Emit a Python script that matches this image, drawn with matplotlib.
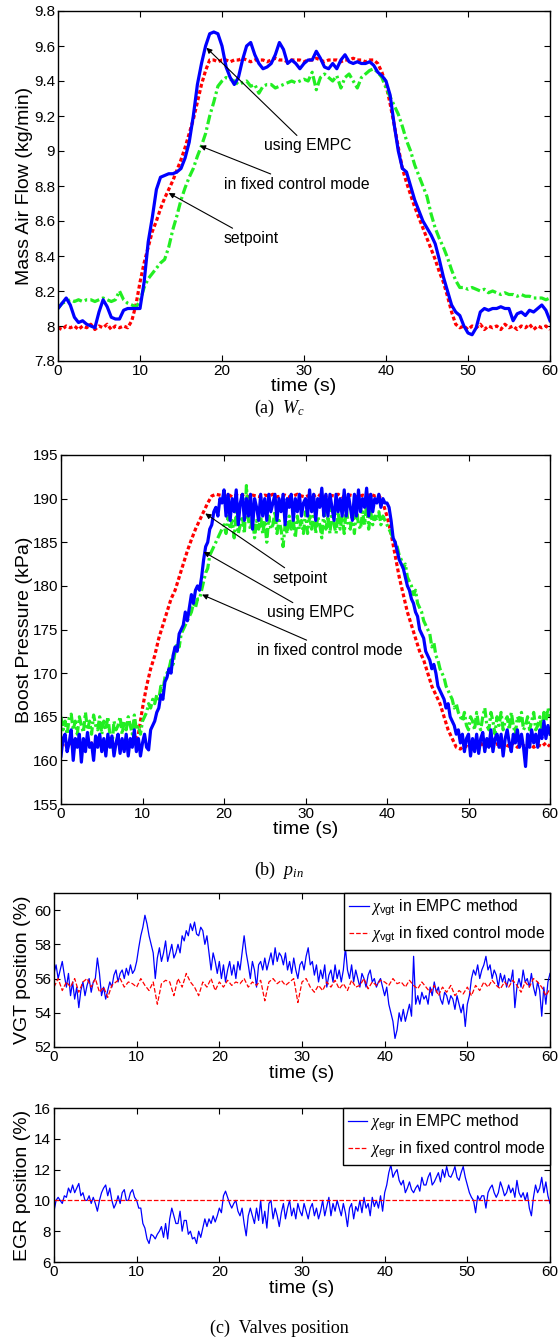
import numpy as np
import matplotlib
matplotlib.use("Agg")
import matplotlib.pyplot as plt

plt.rcParams['font.family'] = ['Liberation Sans', 'DejaVu Sans']
plt.rcParams['mathtext.fontset'] = 'custom'
plt.rcParams['mathtext.rm'] = 'Liberation Sans'
plt.rcParams['mathtext.sf'] = 'Liberation Sans'
plt.rcParams['mathtext.it'] = 'Liberation Serif:italic'
plt.rcParams['mathtext.bf'] = 'Liberation Sans:bold'

# ---------------- data (uniform samples over 0..60 s) ----------------
# (a) mass air flow, 0.5 s samples
wc_empc = [
    8.10, 8.13, 8.16, 8.12, 8.05, 8.02, 8.03, 8.01, 8.00, 7.99, 8.08, 8.15, 8.11, 8.05, 8.04, 8.04, 8.09, 8.10, 8.10, 8.10,
    8.10, 8.25, 8.48, 8.62, 8.78, 8.85, 8.86, 8.87, 8.87, 8.88, 8.90, 8.96, 9.05, 9.20, 9.38, 9.50, 9.60, 9.67, 9.68, 9.67,
    9.60, 9.48, 9.42, 9.38, 9.42, 9.52, 9.60, 9.62, 9.55, 9.50, 9.47, 9.48, 9.50, 9.55, 9.62, 9.58, 9.50, 9.52, 9.50, 9.47,
    9.50, 9.52, 9.52, 9.57, 9.53, 9.48, 9.47, 9.50, 9.47, 9.52, 9.55, 9.51, 9.50, 9.51, 9.50, 9.50, 9.51, 9.49, 9.45, 9.43,
    9.40, 9.32, 9.15, 9.00, 8.90, 8.88, 8.80, 8.72, 8.66, 8.60, 8.56, 8.52, 8.47, 8.38, 8.28, 8.20, 8.12, 8.08, 8.06, 8.00,
    7.96, 7.95, 7.99, 8.08, 8.10, 8.09, 8.10, 8.10, 8.11, 8.10, 8.10, 8.03, 8.07, 8.08, 8.06, 8.09, 8.08, 8.10, 8.12, 8.09, 8.03]
wc_fixed = [
    8.10, 8.13, 8.14, 8.15, 8.14, 8.15, 8.14, 8.15, 8.15, 8.14, 8.15, 8.16, 8.15, 8.14, 8.15, 8.20, 8.15, 8.13, 8.12, 8.11,
    8.14, 8.22, 8.27, 8.30, 8.33, 8.36, 8.38, 8.45, 8.55, 8.63, 8.72, 8.79, 8.85, 8.90, 8.97, 9.03, 9.10, 9.20, 9.28, 9.37,
    9.40, 9.42, 9.41, 9.40, 9.38, 9.39, 9.40, 9.37, 9.38, 9.33, 9.37, 9.38, 9.38, 9.36, 9.37, 9.38, 9.39, 9.40, 9.39, 9.40,
    9.41, 9.40, 9.45, 9.35, 9.42, 9.44, 9.42, 9.40, 9.43, 9.36, 9.42, 9.44, 9.40, 9.36, 9.42, 9.44, 9.46, 9.47, 9.45, 9.42,
    9.36, 9.31, 9.26, 9.21, 9.14, 9.06, 9.00, 8.92, 8.86, 8.80, 8.74, 8.64, 8.56, 8.50, 8.45, 8.39, 8.32, 8.26, 8.22, 8.22,
    8.21, 8.22, 8.21, 8.20, 8.21, 8.19, 8.20, 8.19, 8.18, 8.19, 8.18, 8.18, 8.17, 8.18, 8.17, 8.17, 8.16, 8.16, 8.16, 8.15, 8.16]
wc_set = [
    7.99, 7.98, 8.00, 7.99, 8.00, 7.98, 8.00, 7.99, 8.01, 7.98, 8.00, 7.99, 8.01, 7.98, 8.00, 7.99, 8.00, 7.99, 8.03, 8.12,
    8.25, 8.36, 8.45, 8.54, 8.60, 8.67, 8.73, 8.78, 8.83, 8.89, 8.95, 9.02, 9.10, 9.18, 9.28, 9.38, 9.46, 9.52, 9.52, 9.51,
    9.52, 9.52, 9.51, 9.52, 9.52, 9.53, 9.52, 9.51, 9.52, 9.52, 9.52, 9.51, 9.52, 9.53, 9.52, 9.52, 9.51, 9.52, 9.52, 9.52,
    9.51, 9.52, 9.52, 9.53, 9.52, 9.51, 9.52, 9.52, 9.52, 9.51, 9.52, 9.52, 9.53, 9.52, 9.52, 9.51, 9.52, 9.52, 9.50, 9.45,
    9.38, 9.27, 9.15, 9.02, 8.90, 8.82, 8.75, 8.68, 8.62, 8.56, 8.50, 8.44, 8.38, 8.31, 8.25, 8.17, 8.08, 8.01, 7.99, 8.00,
    7.98, 8.00, 7.99, 8.01, 7.98, 8.00, 7.99, 8.00, 7.98, 8.01, 7.99, 8.00, 7.98, 8.00, 7.99, 8.01, 7.98, 8.00, 7.99, 8.00, 7.98]

# (b) boost pressure; EMPC and fixed at 0.25 s, setpoint at 0.5 s
pin_empc = [
    160.5, 162.5, 163.0, 161.0, 162.0, 163.5, 160.0, 162.5, 161.5, 163.0, 159.8, 162.5, 161.0, 163.2, 161.5, 162.0, 160.0, 162.8, 161.5, 163.0,
    161.0, 162.5, 160.5, 163.0, 161.5, 162.8, 160.5, 162.0, 163.0, 160.8, 162.5, 161.0, 163.0, 160.5, 162.5, 161.5, 163.5, 161.0, 162.5, 160.5,
    162.0, 163.0, 161.5, 161.2, 163.5, 164.0, 164.5, 165.5, 166.0, 167.5, 167.0, 169.0, 169.5, 170.5, 170.0, 172.0, 173.0, 172.5, 174.5, 175.0,
    175.5, 177.0, 176.0, 177.5, 179.0, 178.0, 179.5, 180.0, 179.5, 181.0, 183.0, 184.5, 185.0, 186.5, 187.0, 188.5, 189.0, 188.0, 190.0, 189.5,
    191.0, 188.0, 190.5, 187.5, 190.0, 188.5, 191.0, 187.0, 189.5, 190.5, 187.5, 190.0, 188.0, 190.5, 186.5, 190.0, 189.0, 187.5, 190.5, 188.0,
    190.0, 187.5, 190.5, 188.5, 189.5, 190.5, 187.5, 190.0, 188.5, 190.5, 187.0, 190.0, 189.0, 190.5, 187.5, 190.0, 188.5, 190.5, 188.0, 189.5,
    190.0, 188.0, 191.0, 188.5, 190.5, 187.5, 190.0, 189.0, 191.2, 188.0, 190.5, 188.0, 190.5, 189.0, 187.5, 190.5, 188.5, 190.0, 188.0, 191.0,
    188.0, 190.5, 189.0, 187.5, 190.5, 188.0, 191.0, 188.5, 190.0, 189.0, 191.2, 188.0, 190.5, 188.5, 190.0, 189.5, 190.5, 189.0, 190.0, 189.5,
    189.5, 189.0, 187.5, 185.5, 185.0, 184.0, 183.0, 182.5, 182.0, 181.0, 180.0, 179.5, 178.5, 178.0, 177.0, 176.5, 175.0, 174.5, 174.0, 172.5,
    172.0, 171.5, 170.5, 171.0, 170.0, 168.5, 168.0, 167.5, 167.0, 166.0, 166.5, 165.0, 164.5, 164.0, 163.0, 163.5, 162.0, 163.0, 161.0, 162.5,
    163.0, 160.5, 162.5, 161.0, 163.0, 160.8, 162.5, 163.2, 161.0, 162.5, 161.5, 163.5, 161.0, 162.5, 163.0, 161.5, 163.0, 160.5, 162.5, 163.5,
    162.0, 161.0, 163.0, 162.0, 163.5, 161.5, 163.0, 161.5, 159.3, 163.0, 161.5, 163.5, 162.0, 163.0, 161.5, 163.5, 162.5, 164.5, 162.5, 164.0, 163.0]
pin_fixed = [
    165.0, 163.5, 164.5, 163.0, 164.8, 165.3, 163.5, 164.5, 163.0, 165.0, 164.0, 163.2, 165.5, 163.5, 164.5, 163.0, 165.2, 164.0, 163.5, 165.0,
    163.0, 164.5, 163.5, 165.0, 163.0, 161.5, 164.5, 163.5, 164.0, 165.0, 163.0, 164.5, 163.5, 165.0, 164.0, 163.0, 165.2, 163.5, 164.0, 163.0,
    164.5, 165.0, 165.5, 166.5, 166.0, 167.0, 166.5, 167.5, 167.0, 168.5, 168.0, 169.5, 170.0, 170.5, 171.5, 171.0, 172.5, 173.5, 173.0, 174.5,
    175.0, 175.5, 176.0, 176.5, 177.0, 178.0, 177.5, 178.5, 178.5, 179.5, 180.5, 181.5, 182.0, 183.5, 184.0, 184.5, 185.0, 185.5, 186.0, 186.5,
    187.0, 186.0, 188.0, 186.5, 187.5, 185.5, 188.5, 186.0, 187.0, 188.0, 186.0, 191.5, 187.5, 186.5, 188.0, 185.5, 187.5, 186.5, 188.0, 186.0,
    187.5, 185.0, 188.0, 186.5, 187.0, 188.5, 186.0, 187.5, 186.5, 184.5, 187.0, 186.0, 188.0, 186.5, 187.5, 185.5, 188.0, 186.5, 187.5, 186.0,
    188.5, 186.0, 188.0, 186.5, 189.0, 186.0, 188.0, 187.0, 185.5, 188.5, 186.5, 188.0, 186.0, 189.0, 187.0, 186.0, 188.5, 186.5, 188.0, 186.0,
    189.0, 187.0, 186.5, 188.5, 186.0, 189.0, 187.0, 186.5, 188.5, 187.0, 189.5, 186.5, 188.5, 187.0, 188.0, 187.5, 188.5, 187.0, 188.0, 187.5,
    187.0, 186.5, 186.0, 185.5, 185.0, 184.5, 183.5, 183.0, 182.0, 182.5, 181.0, 180.5, 180.0, 179.0, 179.5, 178.0, 177.5, 177.0, 176.0, 175.5,
    175.0, 174.5, 173.0, 173.5, 172.0, 171.5, 170.5, 170.0, 169.5, 168.5, 168.0, 167.5, 167.0, 166.0, 166.5, 165.5, 165.0, 164.5, 165.5, 164.0,
    163.5, 165.0, 164.5, 163.5, 165.5, 164.0, 163.5, 165.0, 166.0, 164.0, 163.5, 165.5, 164.5, 163.0, 165.0, 164.0, 165.5, 163.5, 164.5, 165.0,
    163.5, 165.5, 164.0, 163.0, 165.0, 164.5, 165.5, 163.5, 164.0, 165.0, 163.5, 164.5, 165.5, 163.5, 164.0, 165.0, 163.5, 165.5, 164.5, 166.0, 165.0]
pin_set = [
    162.0, 161.5, 162.0, 161.8, 162.2, 161.6, 162.0, 161.8, 162.1, 161.7, 162.0, 161.8, 162.2, 161.7, 162.0, 161.8, 162.1, 161.8, 162.0, 163.0,
    166.0, 168.5, 170.5, 172.0, 174.0, 175.5, 177.0, 178.5, 179.5, 181.0, 182.5, 184.0, 185.3, 186.5, 187.5, 188.5, 189.5, 190.3, 190.5, 190.4,
    190.3, 190.5, 190.2, 190.4, 190.3, 190.5, 190.2, 190.4, 190.3, 190.2, 190.4, 190.3, 190.5, 190.2, 190.3, 190.4, 190.2, 190.3, 190.5, 190.3,
    190.2, 190.4, 190.3, 190.5, 190.2, 190.3, 190.4, 190.3, 190.5, 190.2, 190.3, 190.4, 190.3, 190.2, 190.4, 190.3, 190.5, 190.3, 190.4, 189.5,
    188.0, 186.0, 183.5, 181.0, 179.0, 177.0, 175.5, 174.0, 172.5, 171.5, 170.0, 168.5, 167.5, 166.5, 165.0, 163.5, 162.5, 161.5, 161.3, 161.7,
    161.5, 161.8, 161.6, 162.0, 161.5, 161.8, 161.6, 161.9, 161.5, 161.8, 161.6, 162.0, 161.5, 161.8, 161.6, 161.9, 161.5, 161.8, 161.6, 162.0, 161.6]

# (c) valve positions; EMPC at 0.25 s, fixed VGT at 0.5 s
vgt_empc = [
    56.3, 56.8, 56.0, 56.5, 57.0, 56.2, 55.5, 56.3, 55.0, 55.8, 54.8, 55.5, 54.3, 55.3, 55.8, 55.0, 55.6, 56.0, 55.2, 55.8,
    56.0, 57.2, 56.3, 55.0, 55.5, 54.8, 55.3, 55.8, 55.5, 56.2, 56.5, 55.8, 56.3, 56.5, 56.0, 56.6, 56.2, 56.8, 56.3, 56.5,
    57.0, 57.8, 58.5, 59.0, 59.7, 59.2, 58.5, 58.0, 57.5, 56.0, 57.2, 57.8, 57.0, 57.5, 58.2, 57.0, 57.5, 58.0, 57.2, 57.5,
    58.0, 57.5, 58.5, 58.2, 58.8, 58.5, 59.2, 58.8, 59.3, 58.6, 58.5, 59.0, 58.8, 58.0, 58.5, 57.5, 56.5, 57.5, 57.0, 56.3,
    57.0, 56.0, 56.8, 55.8, 56.5, 57.0, 56.2, 56.8, 56.0, 57.0, 56.5, 57.5, 58.5, 57.5, 56.8, 56.0, 57.0, 56.5, 55.5, 56.8,
    57.0, 56.5, 57.2, 56.5, 57.0, 57.5, 56.8, 57.8, 57.0, 57.5, 57.3, 56.8, 57.5, 56.5, 57.0, 56.3, 57.2, 56.5, 56.0, 56.8,
    57.0, 56.5, 57.3, 57.8, 56.8, 57.0, 56.2, 56.8, 55.8, 56.5, 56.0, 56.8, 55.5, 56.2, 56.5, 55.8, 56.8, 56.0, 56.5, 55.8,
    56.5, 57.8, 56.5, 56.0, 56.8, 55.8, 56.5, 56.0, 55.5, 56.3, 56.0, 55.5, 56.2, 56.5, 55.8, 56.0, 55.5, 55.8, 56.0, 55.5,
    55.0, 55.5, 54.5, 54.0, 53.5, 52.5, 53.0, 54.0, 53.5, 54.2, 53.5, 54.0, 54.5, 53.8, 57.3, 54.5, 55.0, 54.5, 55.2, 54.8,
    55.0, 54.5, 55.5, 55.0, 55.8, 55.2, 55.5, 54.8, 54.5, 55.2, 55.0, 54.5, 55.0, 54.8, 54.2, 55.0, 54.5, 54.0, 54.5, 53.2,
    54.5, 55.0, 56.0, 56.5, 56.2, 56.8, 56.0, 56.5, 56.8, 57.3, 56.5, 56.8, 56.0, 56.5, 56.2, 55.5, 56.3, 55.8, 56.2, 55.5,
    56.0, 55.8, 56.5, 54.3, 55.5, 56.0, 55.5, 56.5, 55.8, 56.0, 55.5, 56.3, 55.5, 55.0, 55.8, 55.3, 53.8, 55.5, 54.5, 55.8, 56.3]
vgt_fixed = [
    55.5, 56.0, 55.3, 55.8, 55.5, 56.0, 55.2, 55.8, 56.0, 55.5, 56.0, 55.2, 55.5, 54.9, 55.6, 55.8, 56.0, 55.5, 55.8, 55.7,
    55.5, 56.0, 55.6, 55.3, 55.8, 54.5, 55.7, 55.9, 55.8, 55.0, 56.0, 55.5, 56.3, 55.8, 55.5, 55.0, 55.8, 55.5, 56.0, 55.3,
    55.8, 55.5, 55.9, 55.6, 55.8, 55.7, 56.0, 55.5, 55.8, 55.6, 55.9, 54.7, 55.8, 56.0, 55.7, 55.9, 55.6, 55.8, 56.0, 54.6,
    55.8, 56.0, 55.5, 55.2, 55.6, 55.3, 55.8, 55.5, 55.9, 55.4, 55.7, 55.3, 55.9, 55.5, 55.6, 56.0, 55.4, 55.8, 55.6, 55.9,
    55.8, 55.6, 56.0, 55.7, 55.8, 55.5, 55.9, 55.6, 55.4, 55.8, 55.5, 55.2, 55.6, 55.0, 55.5, 55.2, 55.6, 55.0, 55.3, 55.1,
    55.5, 55.0, 55.6, 55.3, 55.8, 55.5, 55.9, 55.6, 55.4, 55.8, 55.5, 55.9, 55.6, 55.2, 55.8, 55.5, 56.0, 55.8, 55.5, 55.0, 55.4]

egr_empc = [
    9.3, 10.0, 10.2, 10.0, 9.8, 10.3, 10.2, 10.8, 10.5, 11.0, 10.5, 10.8, 11.1, 10.3, 10.5, 10.0, 10.0, 10.3, 9.8, 10.2,
    9.8, 9.3, 10.0, 10.5, 10.8, 11.0, 10.3, 10.8, 10.0, 9.5, 9.8, 10.3, 9.8, 10.5, 10.7, 10.0, 10.0, 10.5, 10.7, 10.2,
    10.0, 9.5, 9.5, 8.5, 8.2, 7.5, 7.2, 7.8, 7.7, 7.5, 7.8, 8.0, 8.3, 7.6, 8.5, 7.5, 8.8, 9.5, 9.0, 8.5,
    8.5, 9.3, 8.0, 8.7, 8.7, 7.8, 8.0, 7.5, 7.6, 7.2, 8.0, 7.6, 8.2, 8.8, 8.3, 8.8, 8.5, 9.0, 8.6, 9.0,
    9.5, 9.2, 10.3, 10.6, 10.2, 9.8, 9.5, 9.8, 10.0, 9.3, 9.0, 9.5, 8.5, 7.7, 9.0, 9.5, 9.0, 8.5, 9.5, 8.7,
    10.0, 8.5, 9.3, 8.2, 9.8, 10.0, 8.8, 9.5, 9.0, 8.3, 9.2, 9.8, 8.8, 9.5, 10.0, 9.0, 9.5, 8.8, 9.8, 9.3,
    9.0, 9.8, 9.3, 8.8, 9.5, 9.8, 9.0, 9.5, 8.8, 9.3, 10.0, 9.0, 9.6, 10.2, 9.0, 9.8, 9.3, 10.0, 9.5, 9.0,
    9.8, 9.2, 8.3, 9.5, 9.8, 8.8, 9.6, 9.3, 10.0, 9.2, 10.2, 9.5, 9.8, 9.0, 10.2, 9.6, 10.0, 9.5, 10.3, 9.3,
    10.5, 11.0, 11.8, 12.3, 11.5, 11.8, 12.0, 11.3, 11.0, 11.3, 10.5, 10.8, 11.2, 10.7, 10.5, 10.8, 11.0, 10.6, 11.5, 11.0,
    11.0, 11.5, 11.8, 11.0, 11.2, 11.5, 11.8, 11.2, 12.0, 11.5, 12.2, 11.6, 11.5, 11.8, 12.2, 11.5, 11.3, 11.8, 12.2, 11.5,
    11.0, 10.5, 10.2, 10.0, 9.2, 10.3, 10.0, 10.3, 10.3, 9.5, 10.5, 10.8, 11.0, 10.5, 10.2, 10.5, 11.2, 10.8, 10.3, 10.5,
    11.0, 10.5, 10.8, 10.2, 11.3, 10.5, 10.2, 10.5, 10.0, 10.5, 9.5, 9.0, 10.2, 11.0, 10.5, 10.8, 11.5, 10.5, 11.2, 10.3, 9.8]
egr_fixed = [10.0, 10.0]

xticks = [0, 10, 20, 30, 40, 50, 60]
wc_yticks = [7.8, 8.0, 8.2, 8.4, 8.6, 8.8, 9.0, 9.2, 9.4, 9.6, 9.8]
pin_yticks = [155, 160, 165, 170, 175, 180, 185, 190, 195]
vgt_yticks = [52, 54, 56, 58, 60]
egr_yticks = [6, 8, 10, 12, 14, 16]


def tgrid(vals):
    return np.linspace(0, 60, len(vals))


W, H = 559, 1340
fig = plt.figure(figsize=(W / 100, H / 100), dpi=100)

TICK_FS = 11
LABEL_FS = 14
NOTE_FS = 11.3


def make_ax(left, top, right, bottom):
    ax = fig.add_axes([left / W, 1 - bottom / H, (right - left) / W, (bottom - top) / H])
    for s in ax.spines.values():
        s.set_linewidth(1.0)
        s.set_color('black')
    ax.tick_params(direction='in', top=True, right=True, length=4, width=0.8,
                   labelsize=TICK_FS, pad=2)
    ax.set_xlim(0, 60)
    ax.set_xticks(xticks)
    ax.set_xticklabels([str(v) for v in xticks])
    return ax


def fmt(v):
    return '%g' % v


GREEN = '#22ee22'
arw = dict(arrowstyle='-|>', color='black', lw=0.8, mutation_scale=8, shrinkA=0, shrinkB=0)

# ---------- (a) ----------
ax = make_ax(58, 11, 550, 361)
ax.plot(tgrid(wc_set), wc_set, color='red', lw=2.3, dashes=(1.2, 0.8))
ax.plot(tgrid(wc_fixed), wc_fixed, color=GREEN, lw=2.3, dashes=(3, 1, 0.8, 1))
ax.plot(tgrid(wc_empc), wc_empc, color='blue', lw=2.3)
ax.set_ylim(7.8, 9.8)
ax.set_yticks(wc_yticks)
ax.set_yticklabels([fmt(v) for v in wc_yticks])
ax.set_ylabel('Mass Air Flow (kg/min)', fontsize=LABEL_FS, labelpad=1)
ax.set_xlabel('time (s)', fontsize=LABEL_FS, labelpad=0.5)
ax.annotate('using EMPC', xy=(18.1, 9.59), xytext=(25.1, 9.03), fontsize=NOTE_FS,
            va='center', ha='left', arrowprops=arw)
ax.annotate('in fixed control mode', xy=(17.3, 9.03), xytext=(20.2, 8.81), fontsize=NOTE_FS,
            va='center', ha='left', arrowprops=arw)
ax.annotate('setpoint', xy=(13.5, 8.76), xytext=(20.2, 8.50), fontsize=NOTE_FS,
            va='center', ha='left', arrowprops=arw)
fig.text(0.5, 1 - 408 / H, r'(a)  $W_c$', ha='center', va='center',
         fontsize=13, family='Liberation Serif')

# ---------- (b) ----------
ax = make_ax(61, 455, 550, 804)
ax.plot(tgrid(pin_set), pin_set, color='red', lw=2.3, dashes=(1.2, 0.8))
ax.plot(tgrid(pin_fixed), pin_fixed, color=GREEN, lw=2.3, dashes=(3, 1, 0.8, 1))
ax.plot(tgrid(pin_empc), pin_empc, color='blue', lw=2.3)
ax.set_ylim(155, 195)
ax.set_yticks(pin_yticks)
ax.set_yticklabels([fmt(v) for v in pin_yticks])
ax.set_ylabel('Boost Pressure (kPa)', fontsize=LABEL_FS, labelpad=0)
ax.set_xlabel('time (s)', fontsize=LABEL_FS, labelpad=0.5)
ax.annotate('setpoint', xy=(17.7, 188.3), xytext=(25.9, 180.9), fontsize=NOTE_FS,
            va='center', ha='left', arrowprops=arw)
ax.annotate('using EMPC', xy=(17.5, 183.9), xytext=(25.3, 176.9), fontsize=NOTE_FS,
            va='center', ha='left', arrowprops=arw)
ax.annotate('in fixed control mode', xy=(17.3, 179.0), xytext=(24.1, 172.6), fontsize=NOTE_FS,
            va='center', ha='left', arrowprops=arw)
fig.text(0.5, 1 - 870 / H, r'(b)  $p_{in}$', ha='center', va='center',
         fontsize=13, family='Liberation Serif')


def add_legend(ax, handles, labels):
    leg = ax.legend(handles, labels, loc='upper right', borderaxespad=0, fancybox=False,
                    fontsize=NOTE_FS, handlelength=1.25, handletextpad=0.15,
                    borderpad=0.3, labelspacing=0.45, framealpha=1)
    leg.get_frame().set_edgecolor('black')
    leg.get_frame().set_linewidth(1.0)
    return leg


# ---------- (c) top ----------
ax = make_ax(54, 893, 550, 1047)
l1, = ax.plot(tgrid(vgt_empc), vgt_empc, color='blue', lw=0.9)
l2, = ax.plot(tgrid(vgt_fixed), vgt_fixed, color='red', lw=0.9, ls='--')
ax.set_ylim(52, 61)
ax.set_yticks(vgt_yticks)
ax.set_yticklabels([fmt(v) for v in vgt_yticks])
ax.set_ylabel('VGT position (%)', fontsize=LABEL_FS, labelpad=2)
ax.set_xlabel('time (s)', fontsize=LABEL_FS, labelpad=1)
add_legend(ax, [l1, l2], [r'$\chi_{\mathrm{vgt}}$ in EMPC method',
                          r'$\chi_{\mathrm{vgt}}$ in fixed control mode'])

# ---------- (c) bottom ----------
ax = make_ax(54, 1108, 550, 1262)
l1, = ax.plot(tgrid(egr_empc), egr_empc, color='blue', lw=0.9)
l2, = ax.plot(tgrid(egr_fixed), egr_fixed, color='red', lw=0.9, ls='--')
ax.set_ylim(6, 16)
ax.set_yticks(egr_yticks)
ax.set_yticklabels([fmt(v) for v in egr_yticks])
ax.set_ylabel('EGR position (%)', fontsize=LABEL_FS, labelpad=2)
ax.set_xlabel('time (s)', fontsize=LABEL_FS, labelpad=1)
add_legend(ax, [l1, l2], [r'$\chi_{\mathrm{egr}}$ in EMPC method',
                          r'$\chi_{\mathrm{egr}}$ in fixed control mode'])
fig.text(0.5, 1 - 1328 / H, '(c)  Valves position', ha='center', va='center',
         fontsize=13, family='Liberation Serif')

fig.savefig('out.png', dpi=100)
